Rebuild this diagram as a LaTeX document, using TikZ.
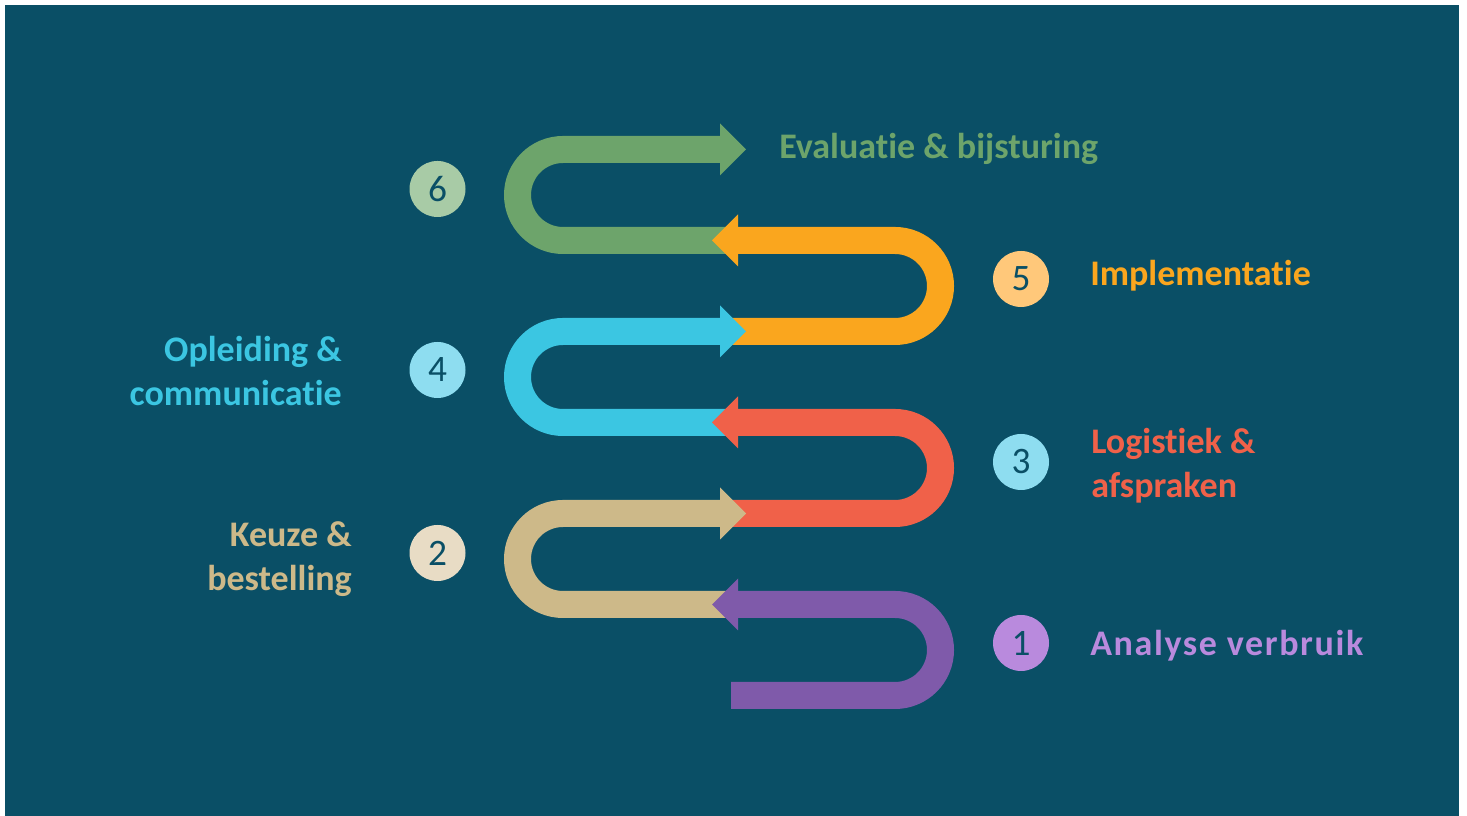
\documentclass[tikz,border=0pt]{standalone}
\usepackage{fontspec}
\setmainfont{Carlito}[Ligatures=NoCommon]
\usetikzlibrary{arrows.meta}

\definecolor{bgteal}{HTML}{0A4F66}
\definecolor{cgreen}{HTML}{6DA46B}
\definecolor{corange}{HTML}{FAA61E}
\definecolor{ccyan}{HTML}{3BC6E2}
\definecolor{cred}{HTML}{F06149}
\definecolor{ctan}{HTML}{CDB989}
\definecolor{cpurple}{HTML}{7F5AAA}
\definecolor{lgreen}{HTML}{A8CBA6}
\definecolor{lorange}{HTML}{FFC87A}
\definecolor{lcyan}{HTML}{8EDDF0}
\definecolor{ltan}{HTML}{E8DCC5}
\definecolor{lpurple}{HTML}{B98ADD}

\begin{document}
\begin{tikzpicture}[
						x=0.75pt, y=0.75pt,
						band/.style = {line width=20.25pt, -{Triangle[length=19.5pt, width=39pt, line width=0pt]}},
						num/.style = {circle, minimum size=42pt, inner sep=0pt, text=bgteal, font=\fontsize{28}{34}\selectfont},
						lbl/.style = {inner sep=0pt, font=\fontsize{27}{33}\selectfont\bfseries}
					]
\fill[white] (0,0) rectangle (1467,816);
\fill[bgteal] (5,0) rectangle (1459,811);

% arrows, drawn from 6 down to 1 so each head sits on the next tail
\draw[band, cgreen] (731,575.5) -- (563,575.5) arc[start angle=270, end angle=90, radius=45.5] -- (746,666.5);
\draw[band, corange] (731,484.5) -- (895,484.5) arc[start angle=-90, end angle=90, radius=45.5] -- (712,575.5);
\draw[band, ccyan] (731,393.5) -- (563,393.5) arc[start angle=270, end angle=90, radius=45.5] -- (746,484.5);
\draw[band, cred] (731,302.5) -- (895,302.5) arc[start angle=-90, end angle=90, radius=45.5] -- (712,393.5);
\draw[band, ctan] (731,211.5) -- (563,211.5) arc[start angle=270, end angle=90, radius=45.5] -- (746,302.5);
\draw[band, cpurple] (731,120.5) -- (895,120.5) arc[start angle=-90, end angle=90, radius=45.5] -- (712,211.5);

% numbers
\node[num, fill=lgreen] (n6) at (437.5,627) {6};
\node[num, fill=lorange] (n5) at (1021,537) {5};
\node[num, fill=lcyan] (n4) at (437.5,446) {4};
\node[num, fill=lcyan] (n3) at (1021,354) {3};
\node[num, fill=ltan] (n2) at (437.5,263) {2};
\node[num, fill=lpurple] (n1) at (1021,173) {1};

% labels (base = last line)
\node[lbl, text=cgreen, anchor=base west] (t6) at (779,657) {Evaluatie \& bijsturing};
\node[lbl, text=corange, anchor=base west] (t5) at (1090,530) {Implementatie};
\node[lbl, text=ccyan, anchor=base east, align=right] (t4) at (342,410) {Opleiding \&\\communicatie};
\node[lbl, text=cred, anchor=base west, align=left] (t3) at (1091,318) {Logistiek \&\\afspraken};
\node[lbl, text=ctan, anchor=base east, align=right] (t2) at (352,225) {Keuze \&\\bestelling};
\node[lbl, text=lpurple, anchor=base west] (t1) at (1090,160) {\addfontfeature{LetterSpace=4.5}Analyse verbruik};
\end{tikzpicture}
\end{document}
